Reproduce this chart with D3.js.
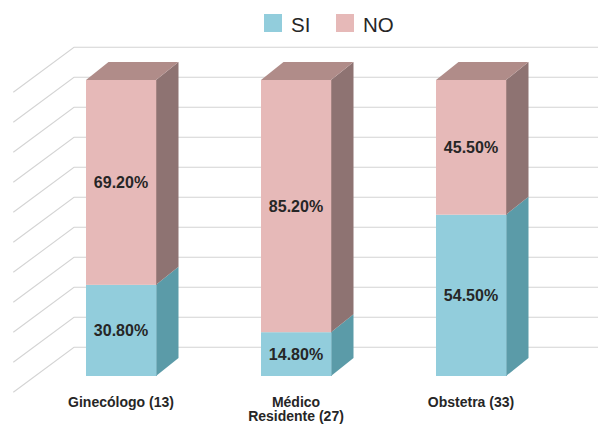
<!DOCTYPE html>
<html>
<head>
<meta charset="utf-8">
<script src="https://cdn.jsdelivr.net/npm/d3@7/dist/d3.min.js"></script>
<style>
  html, body { margin: 0; padding: 0; background: #ffffff; }
  svg { display: block; font-family: "Liberation Sans", Arial, sans-serif; }
</style>
</head>
<body>
<svg id="chart" width="598" height="425"></svg>
<script>
// Categories (respondent group with sample size) and stacked percentages
const categories = ["Ginecólogo (13)", "Médico Residente (27)", "Obstetra (33)"];
const seriesNames = ["SI", "NO"];
const siValues = [30.8, 14.8, 54.5];
const noValues = [69.2, 85.2, 45.5];
const gridTicks = [0, 10, 20, 30, 40, 50, 60, 70, 80, 90, 100];

const colors = {
  SI: { front: "#92cddc", side: "#5b9ba8", top: "#7fb8c6", edge: "#7db4c1" },
  NO: { front: "#e6b9b8", side: "#8e7372", top: "#b08c89", edge: "#a58583" }
};

const svg = d3.select("#chart");

// Oblique depth offset of each bar (front face to back face)
const depth = { dx: 22.5, dy: -18 };
// Walls: left wall runs from the front edge to the back wall
const wall = { frontX: 13.3, backX: 74, drop: 45, right: 598 };

// Scales
const x = d3.scaleBand()
  .domain(categories)
  .range([33.5, 558.5])
  .paddingInner(0.6)
  .paddingOuter(0.3);
const yFront = d3.scaleLinear().domain([0, 100]).range([376, 80]);
const yBack = d3.scaleLinear().domain([0, 100]).range([347.3, 47.3]);

// Gridlines: diagonal on the side wall, horizontal on the back wall
svg.append("g")
  .selectAll("path")
  .data(gridTicks)
  .join("path")
  .attr("fill", "none")
  .attr("stroke", "#d4d4d4")
  .attr("stroke-width", 1.1)
  .attr("d", v => {
    const yb = yBack(v);
    return d3.line()([[wall.frontX, yb + wall.drop], [wall.backX, yb], [wall.right, yb]]);
  });

// Stack data
const rows = categories.map((c, i) => ({ cat: c, SI: siValues[i], NO: noValues[i] }));
const stacked = d3.stack().keys(seriesNames)(rows);

const bars = svg.append("g");
stacked.forEach((layer, li) => {
  const key = layer.key;
  const col = colors[key];
  layer.forEach(d => {
    const x0 = x(d.data.cat);
    const x1 = x0 + x.bandwidth();
    const yb = yFront(d[0]);
    const yt = yFront(d[1]);
    const g = bars.append("g");
    // right side face
    g.append("path")
      .attr("fill", col.side)
      .attr("d", d3.line()([
        [x1, yb], [x1 + depth.dx, yb + depth.dy], [x1 + depth.dx, yt + depth.dy], [x1, yt]
      ]) + "Z");
    // top face only on the top of the stack
    if (li === stacked.length - 1) {
      g.append("path")
        .attr("fill", col.top)
        .attr("d", d3.line()([
          [x0, yt], [x0 + depth.dx, yt + depth.dy], [x1 + depth.dx, yt + depth.dy], [x1, yt]
        ]) + "Z");
    }
    // front face
    g.append("rect")
      .attr("x", x0)
      .attr("y", yt)
      .attr("width", x1 - x0)
      .attr("height", yb - yt)
      .attr("fill", col.front);
    // front-right edge highlight
    g.append("line")
      .attr("x1", x1 + 0.5).attr("x2", x1 + 0.5)
      .attr("y1", yt).attr("y2", yb)
      .attr("stroke", col.edge)
      .attr("stroke-width", 1);
    // value label
    g.append("text")
      .attr("x", (x0 + x1) / 2)
      .attr("y", (yb + yt) / 2)
      .attr("dy", "0.35em")
      .attr("text-anchor", "middle")
      .attr("font-size", 16)
      .attr("font-weight", "bold")
      .attr("fill", "#262626")
      .text(d3.format(".2f")(d.data[key]) + "%");
  });
});

// Category labels, wrapped when wider than the available space
const labelSize = 14;
const maxLabelWidth = 125;
const wrapWidth = 112;
const labels = svg.append("g");
categories.forEach(c => {
  const cx = x(c) + x.bandwidth() / 2;
  const t = labels.append("text")
    .attr("x", cx)
    .attr("y", 406.5)
    .attr("text-anchor", "middle")
    .attr("font-size", labelSize)
    .attr("font-weight", "bold")
    .attr("fill", "#262626")
    .text(c);
  if (t.node().getComputedTextLength() > maxLabelWidth) {
    const words = c.split(" ");
    t.text(null);
    const lines = [];
    let cur = [];
    const probe = labels.append("text").attr("font-size", labelSize).attr("font-weight", "bold");
    words.forEach(w => {
      probe.text(cur.concat([w]).join(" "));
      if (cur.length && probe.node().getComputedTextLength() > wrapWidth) {
        lines.push(cur.join(" "));
        cur = [w];
      } else {
        cur.push(w);
      }
    });
    lines.push(cur.join(" "));
    probe.remove();
    // keep "Médico" alone on the first line when the rest fits below
    if (lines.length === 2 && lines[0].split(" ").length > 1) {
      const first = lines[0].split(" ");
      const moved = first.pop();
      probe.text(moved + " " + lines[1]);
      lines[0] = first.join(" ");
      lines[1] = moved + " " + lines[1];
    }
    lines.forEach((ln, k) => {
      t.append("tspan").attr("x", cx).attr("dy", k === 0 ? 0 : 14.5).text(ln);
    });
  }
});

// Legend
const legend = svg.append("g");
const legendItems = [
  { name: "SI", x: 264, color: colors.SI.front },
  { name: "NO", x: 336, color: colors.NO.front }
];
legendItems.forEach(it => {
  legend.append("rect")
    .attr("x", it.x).attr("y", 14)
    .attr("width", 18).attr("height", 18)
    .attr("fill", it.color);
  legend.append("text")
    .attr("x", it.x + 27)
    .attr("y", 31.5)
    .attr("font-size", 20.5)
    .attr("fill", "#262626")
    .text(it.name);
});
</script>
</body>
</html>
